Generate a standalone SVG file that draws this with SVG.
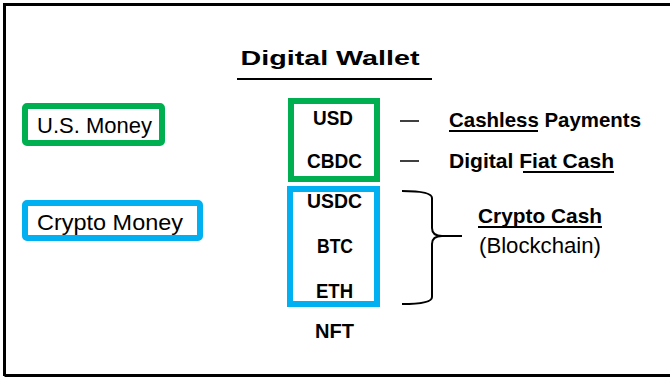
<svg xmlns="http://www.w3.org/2000/svg" width="670" height="378" viewBox="0 0 670 378">
<style>
.b{font-family:"Liberation Sans",Arial,sans-serif;font-weight:bold;font-size:20.5px;fill:#000}
.r{font-family:"Liberation Sans",Arial,sans-serif;font-size:21.5px;fill:#000}
.g{fill:#fff;stroke:#00b050;stroke-width:6}
.c{fill:#fff;stroke:#00b0f0;stroke-width:6}
.ln{stroke:#000;stroke-width:2;fill:none}
</style>
<rect x="0" y="0" width="670" height="378" fill="#fff"/>
<path d="M4.5,376 L4.5,4.5 L672,4.5 M4.5,375.5 L672,375.5" fill="none" stroke="#000" stroke-width="3"/>
<g id="title">
<text class="b" x="240.5" y="65" font-size="28" textLength="179" lengthAdjust="spacingAndGlyphs">Digital Wallet</text>
<line class="ln" x1="237" y1="79" x2="432" y2="79"/>
</g>
<g id="us-money">
<rect class="g" x="25" y="106" width="137" height="37" rx="2"/>
<text class="r" x="37" y="133" textLength="115" lengthAdjust="spacingAndGlyphs">U.S. Money</text>
</g>
<g id="crypto-money">
<rect class="c" x="25" y="203" width="175" height="35" rx="2"/>
<text class="r" x="37" y="230" textLength="146" lengthAdjust="spacingAndGlyphs">Crypto Money</text>
</g>
<g id="fiat-group">
<rect class="g" x="291" y="101" width="86" height="78"/>
<text class="b" x="313" y="125" textLength="40" lengthAdjust="spacingAndGlyphs">USD</text>
<text class="b" x="307" y="168" textLength="55" lengthAdjust="spacingAndGlyphs">CBDC</text>
</g>
<g id="crypto-group">
<rect class="c" x="290" y="189" width="87" height="115"/>
<text class="b" x="307" y="208" textLength="55" lengthAdjust="spacingAndGlyphs">USDC</text>
<text class="b" x="317" y="253" textLength="36" lengthAdjust="spacingAndGlyphs">BTC</text>
<text class="b" x="316" y="298" textLength="37" lengthAdjust="spacingAndGlyphs">ETH</text>
</g>
<g id="nft">
<text class="b" x="315" y="338" textLength="39" lengthAdjust="spacingAndGlyphs">NFT</text>
</g>
<g id="cashless">
<text class="b" x="449" y="127" textLength="192" lengthAdjust="spacingAndGlyphs">Cashless Payments</text>
<line class="ln" x1="449" y1="131" x2="538" y2="131"/>
</g>
<g id="digital-fiat">
<text class="b" x="449" y="168" textLength="165" lengthAdjust="spacingAndGlyphs">Digital Fiat Cash</text>
<line class="ln" x1="523" y1="172" x2="614" y2="172"/>
</g>
<g id="crypto-cash">
<text class="b" x="478" y="223" textLength="124" lengthAdjust="spacingAndGlyphs">Crypto Cash</text>
<line class="ln" x1="478" y1="227" x2="602" y2="227"/>
<text class="r" x="479" y="253" font-size="20.5" textLength="122" lengthAdjust="spacingAndGlyphs">(Blockchain)</text>
</g>
<g id="connectors">
<line x1="400" y1="121" x2="419" y2="121" stroke="#000" stroke-width="1.5"/>
<line x1="400" y1="161" x2="419" y2="161" stroke="#000" stroke-width="1.5"/>
<path class="ln" d="M402,191 Q432,191 432,198 L432,228 Q432,236 442,236 L462,236 M442,236 Q432,236 432,244 L432,297 Q432,304 402,304"/>
</g>
</svg>
